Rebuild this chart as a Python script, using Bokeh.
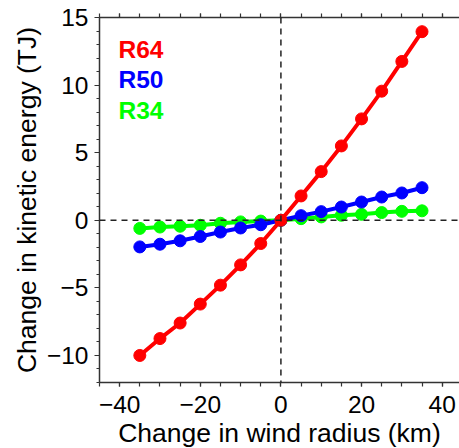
from bokeh.plotting import figure
from bokeh.models import LinearAxis, FixedTicker, Span, Label, Range1d
from bokeh.embed import file_html
from bokeh.resources import INLINE

# Data
radius_change = [-35, -30, -25, -20, -15, -10, -5, 0, 5, 10, 15, 20, 25, 30, 35]
r64 = [-10.0, -8.75, -7.6, -6.2, -4.8, -3.3, -1.72, 0.0, 1.8, 3.6, 5.5, 7.5, 9.55, 11.75, 13.95]
r50 = [-1.97, -1.77, -1.52, -1.2, -0.87, -0.57, -0.33, 0.0, 0.34, 0.64, 0.98, 1.35, 1.72, 2.02, 2.41]
r34 = [-0.6, -0.5, -0.44, -0.37, -0.22, -0.12, -0.06, 0.0, 0.12, 0.25, 0.37, 0.44, 0.57, 0.66, 0.7]
series_names = ["R64", "R50", "R34"]
series_colors = ["#ff0000", "#0000ff", "#00ff00"]
x_major = [-40, -20, 0, 20, 40]
x_minor = list(range(-45, 50, 5))
y_major = [-10, -5, 0, 5, 10, 15]
y_minor = list(range(-12, 16, 1))

FONT = "Liberation Sans"
AXC = "#333333"

p = figure(width=459, height=448, output_backend="svg", toolbar_location=None,
           x_range=Range1d(-45, 44.3), y_range=Range1d(-12, 15),
           x_axis_location=None, y_axis_location=None,
           min_border_left=99, min_border_right=0, min_border_top=17, min_border_bottom=66)
p.frame_width = 360
p.frame_height = 365
p.outline_line_color = None
p.grid.visible = False
p.background_fill_color = "white"
p.border_fill_color = "white"

minus = "\u2212"

def style_axis(ax, major, minor, label, major_out, minor_out, standoff, show_labels=True):
    ax.ticker = FixedTicker(ticks=major, minor_ticks=minor)
    ax.axis_line_color = AXC
    ax.axis_line_width = 1.5
    ax.major_tick_line_color = AXC
    ax.minor_tick_line_color = AXC
    ax.major_tick_line_width = 1.2
    ax.minor_tick_line_width = 1.2
    ax.major_tick_in = 0
    ax.minor_tick_in = 0
    ax.major_tick_out = major_out
    ax.minor_tick_out = minor_out
    ax.major_label_text_font = FONT
    ax.major_label_text_font_size = "24.5px"
    ax.major_label_text_color = "black"
    ax.major_label_standoff = standoff
    ax.major_label_overrides = {v: (minus + str(-v) if v < 0 else str(v)) for v in major}
    if label:
        ax.axis_label = label
        ax.axis_label_text_font = FONT
        ax.axis_label_text_font_size = "26.5px"
        ax.axis_label_text_font_style = "normal"
        ax.axis_label_text_color = "black"
        ax.axis_label_standoff = 2
    if not show_labels:
        ax.major_label_text_font_size = "0px"
        ax.major_label_text_color = None

xb = LinearAxis()
style_axis(xb, x_major, x_minor, "Change in wind radius (km)", 4, 4, 9)
p.add_layout(xb, "below")
xt = LinearAxis()
style_axis(xt, x_major, x_minor, None, 4, 4, 5, show_labels=False)
p.add_layout(xt, "above")
yl = LinearAxis()
style_axis(yl, y_major, y_minor, "Change in kinetic energy (TJ)", 5, 3, 6)
p.add_layout(yl, "left")

p.add_layout(Span(location=0, dimension="width", line_color="#222222", line_width=1.5, line_dash="6 5"))
p.add_layout(Span(location=0, dimension="height", line_color="#222222", line_width=1.5, line_dash="6 5"))

for ys, c in [(r34, series_colors[2]), (r50, series_colors[1]), (r64, series_colors[0])]:
    p.line(radius_change, ys, line_color=c, line_width=4)
    p.scatter(radius_change, ys, marker="circle", size=12, fill_color=c, line_color=c)

label_pos = [(-40.3, 12.66), (-40.3, 10.45), (-40.3, 8.1)]
for name, c, (lx, ly) in zip(series_names, series_colors, label_pos):
    p.add_layout(Label(x=lx, y=ly, text=name, text_color=c, text_font=FONT,
                       text_font_size="24.5px", text_font_style="bold",
                       text_baseline="alphabetic", text_align="left"))

open("out.html", "w").write(file_html(p, INLINE))
